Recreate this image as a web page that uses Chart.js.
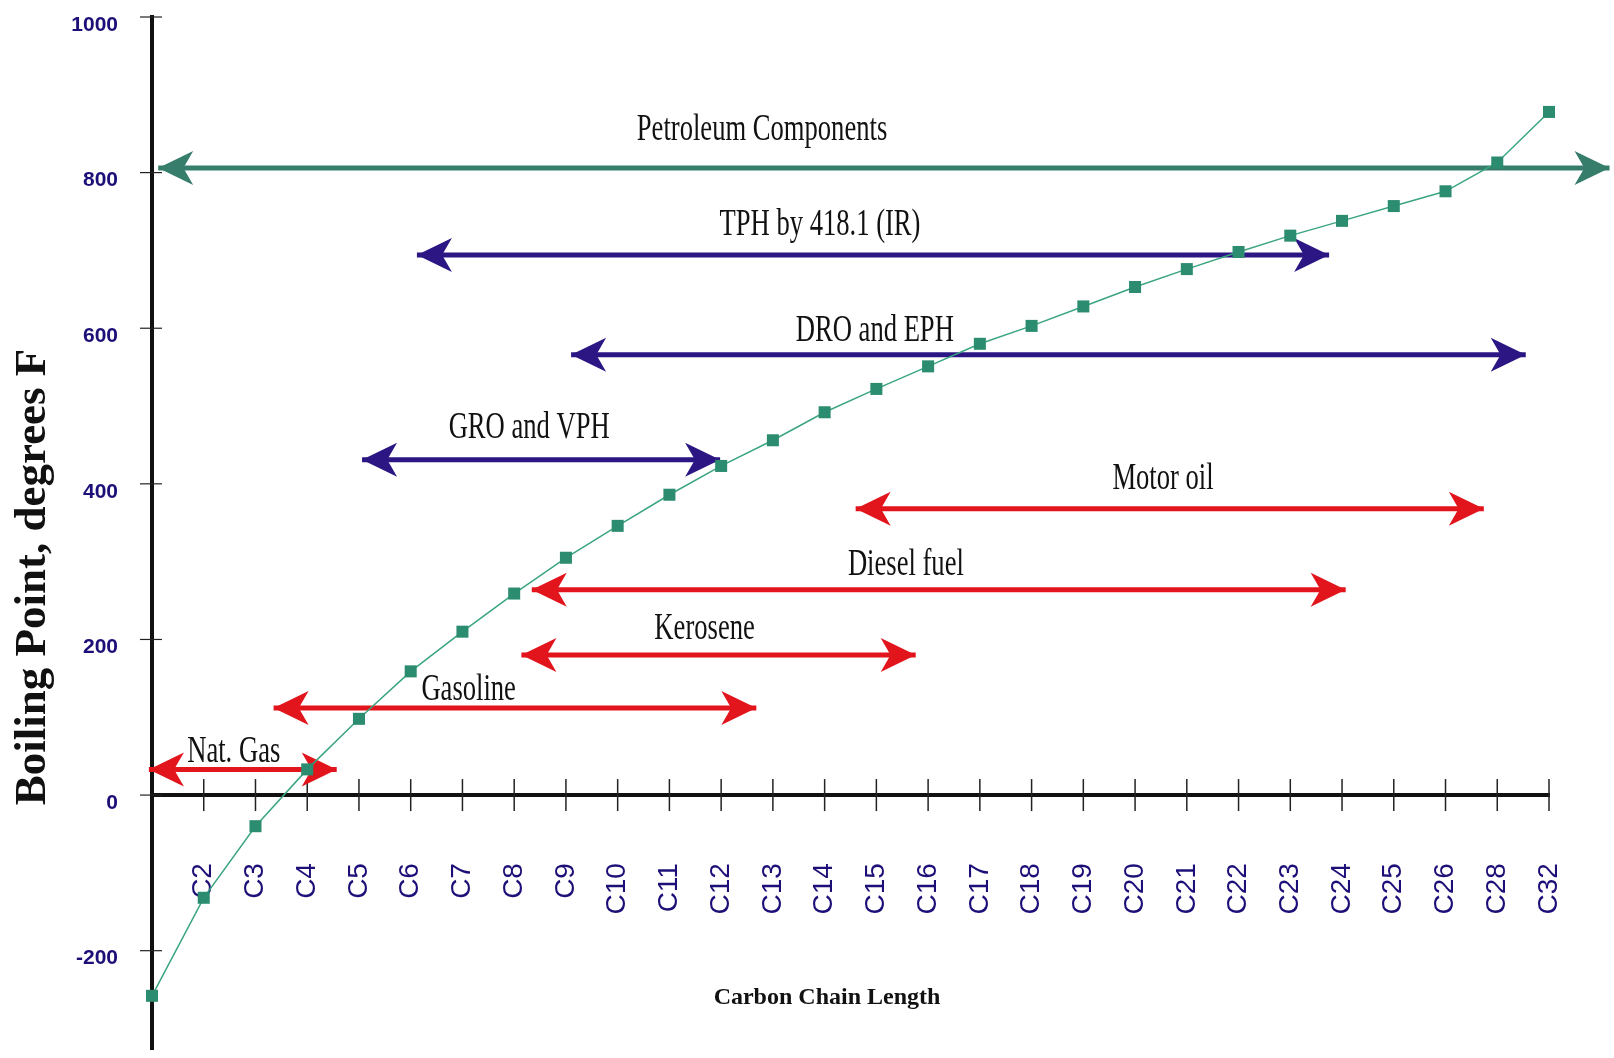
<!DOCTYPE html>
<html>
<head>
<meta charset="utf-8">
<style>
  html, body { margin: 0; padding: 0; background: #fff; }
  #wrap { width: 1614px; height: 1058px; }
</style>
</head>
<body>
<div id="wrap"><canvas id="bpChart"></canvas></div>
<script src="https://cdn.jsdelivr.net/npm/chart.js"></script>
<script>
  // carbon numbers along the x axis (index 0 = C1)
  const carbons = ['C1', 'C2', 'C3', 'C4', 'C5', 'C6', 'C7', 'C8', 'C9', 'C10', 'C11', 'C12', 'C13', 'C14',
    'C15', 'C16', 'C17', 'C18', 'C19', 'C20', 'C21', 'C22', 'C23', 'C24', 'C25', 'C26', 'C28', 'C32'];
  const boilingF = [-258, -132, -40, 33, 98, 159, 210, 259, 305, 346, 386, 423, 456, 492,
    522, 551, 580, 603, 628, 653, 676, 698, 719, 738, 757, 776, 813, 878];
  const yTicks = [-200, 0, 200, 400, 600, 800, 1000];

  // ranges (x in carbon-index units, y in degrees F)
  const rangeNames = ['Petroleum Components', 'TPH by 418.1 (IR)', 'DRO and EPH', 'GRO and VPH',
    'Motor oil', 'Diesel fuel', 'Kerosene', 'Gasoline', 'Nat. Gas'];
  const rangeKind = ['all', 'method', 'method', 'method', 'product', 'product', 'product', 'product', 'product'];
  const rangeStart = [0.12, 5.12, 8.1, 4.06, 13.6, 7.34, 7.14, 2.35, -0.06];
  const rangeEnd = [28.17, 22.75, 26.55, 10.98, 25.74, 23.07, 14.76, 11.68, 3.57];
  const rangeLevel = [806, 694, 566, 431, 368, 264, 180, 112, 33];
  // label centre (x) and baseline (y)
  const labelX = [11.79, 12.91, 13.97, 7.29, 19.54, 14.57, 10.68, 6.12, 1.58];
  const labelY = [842, 720, 583, 459, 394, 283, 200, 122, 42];

  const kindColor = { all: '#367d6c', method: '#2b1683', product: '#e2141c' };
  const tickColor = '#1c0f78';

  function arrowHead(ctx, x, y, dir) {
    const L = 35, W = 17;
    ctx.beginPath();
    ctx.moveTo(x, y);
    ctx.lineTo(x - dir * L, y - W);
    ctx.lineTo(x - dir * L * 0.72, y);
    ctx.lineTo(x - dir * L, y + W);
    ctx.closePath();
    ctx.fill();
  }

  const arrowPlugin = {
    id: 'arrows',
    beforeDatasetsDraw(chart) {
      // tick marks crossing both axes
      const { ctx, scales: { x, y } } = chart;
      const y0 = y.getPixelForValue(0);
      const x0 = x.getPixelForValue(0);
      ctx.save();
      ctx.strokeStyle = '#222';
      ctx.lineWidth = 1.5;
      for (let i = 1; i < carbons.length; i++) {
        const px = x.getPixelForValue(i);
        ctx.beginPath();
        ctx.moveTo(px, y0 - 16);
        ctx.lineTo(px, y0 + 16);
        ctx.stroke();
      }
      ctx.lineWidth = 1.2;
      yTicks.forEach(v => {
        const py = y.getPixelForValue(v);
        ctx.beginPath();
        ctx.moveTo(x0 - 12, py);
        ctx.lineTo(x0 + 10, py);
        ctx.stroke();
      });
      ctx.restore();
    },
    afterDatasetDraw(chart, args) {
      const ds = chart.data.datasets[args.index];
      if (!ds.isRange) return;
      const pts = args.meta.data;
      const ctx = chart.ctx;
      ctx.save();
      ctx.fillStyle = ds.borderColor;
      arrowHead(ctx, pts[0].x, pts[0].y, -1);
      arrowHead(ctx, pts[1].x, pts[1].y, 1);
      ctx.restore();
    },
    afterDraw(chart) {
      const { ctx, scales: { x, y } } = chart;
      ctx.save();
      ctx.fillStyle = '#111';
      ctx.textAlign = 'center';
      ctx.textBaseline = 'alphabetic';
      ctx.font = '38px "Liberation Serif", "Times New Roman", serif';
      rangeNames.forEach((name, i) => {
        ctx.save();
        ctx.translate(x.getPixelForValue(labelX[i]), y.getPixelForValue(labelY[i]));
        ctx.scale(0.7, 1);
        ctx.fillText(name, 0, 0);
        ctx.restore();
      });
      // axis titles
      ctx.textBaseline = 'middle';
      ctx.font = 'bold 24px "Liberation Serif", "Times New Roman", serif';
      ctx.fillText('Carbon Chain Length', 827, 998);
      ctx.textBaseline = 'alphabetic';
      ctx.translate(45, 577);
      ctx.rotate(-Math.PI / 2);
      ctx.font = 'bold 45px "Liberation Serif", "Times New Roman", serif';
      ctx.fillText('Boiling Point, degrees F', 0, 0);
      ctx.restore();
    }
  };

  const datasets = [{
    data: boilingF.map((v, i) => ({ x: i, y: v })),
    borderColor: '#3aa57f',
    borderWidth: 1.5,
    pointStyle: 'rect',
    pointRadius: 8.5,
    pointBackgroundColor: '#2b8c6f',
    pointBorderWidth: 0,
    tension: 0,
    clip: false
  }];
  rangeNames.forEach((name, i) => {
    datasets.push({
      label: name,
      isRange: true,
      data: [{ x: rangeStart[i], y: rangeLevel[i] }, { x: rangeEnd[i], y: rangeLevel[i] }],
      borderColor: kindColor[rangeKind[i]],
      borderWidth: 5,
      pointRadius: 0,
      clip: false
    });
  });

  const ctx = document.getElementById('bpChart').getContext('2d');
  new Chart(ctx, {
    type: 'line',
    data: { datasets: datasets },
    options: {
      responsive: true,
      maintainAspectRatio: false,
      animation: false,
      layout: { padding: { left: 0, right: 65, top: 17, bottom: 0 } },
      plugins: {
        legend: { display: false },
        tooltip: { enabled: false }
      },
      scales: {
        x: {
          type: 'linear',
          min: 0,
          max: carbons.length - 1,
          position: { y: 0 },
          afterBuildTicks: s => { s.ticks = carbons.map((c, i) => ({ value: i })); },
          grid: { drawOnChartArea: false, drawTicks: true, tickLength: 68, tickColor: 'rgba(0,0,0,0)' },
          border: { color: '#111', width: 4 },
          ticks: {
            autoSkip: false,
            minRotation: 90,
            maxRotation: 90,
            padding: 0,
            color: tickColor,
            font: { family: '"Liberation Sans", Arial, sans-serif', size: 28, lineHeight: 0.5 },
            callback: v => (v === 0 ? '' : carbons[v])
          }
        },
        y: {
          min: -327,
          max: 1000,
          afterFit: s => { s.width = 152; },
          afterBuildTicks: s => { s.ticks = yTicks.map(v => ({ value: v })); },
          grid: { drawOnChartArea: false, drawTicks: true, tickLength: 34, tickColor: 'rgba(0,0,0,0)' },
          border: { color: '#111', width: 4 },
          ticks: {
            color: tickColor,
            padding: 0,
            labelOffset: 8,
            font: { family: '"Liberation Sans", Arial, sans-serif', size: 21, weight: 'bold', lineHeight: 0.4 },
            callback: v => String(v)
          }
        }
      }
    },
    plugins: [arrowPlugin]
  });
</script>
</body>
</html>
